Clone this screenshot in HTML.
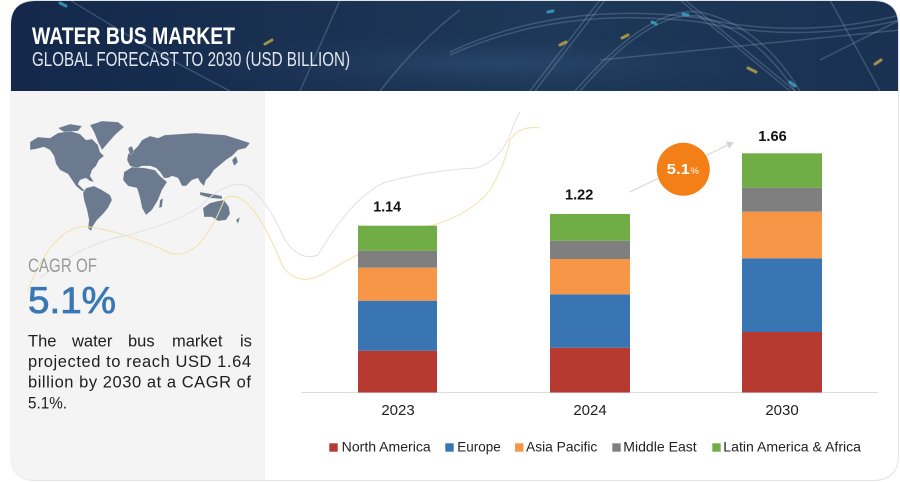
<!DOCTYPE html>
<html><head><meta charset="utf-8"><style>
html,body{margin:0;padding:0;background:#fff;}
body{width:900px;height:482px;overflow:hidden;position:relative;font-family:"Liberation Sans",sans-serif;}
svg{position:absolute;left:0;top:0;}
</style></head><body>
<svg width="900" height="482" viewBox="0 0 900 482" xmlns="http://www.w3.org/2000/svg">
<defs>
<linearGradient id="hdr" x1="0" y1="0" x2="1" y2="0">
<stop offset="0" stop-color="#13284a"/>
<stop offset="0.35" stop-color="#1a3152"/>
<stop offset="0.6" stop-color="#1d3858"/>
<stop offset="1" stop-color="#1a3152"/>
</linearGradient>
<radialGradient id="glow" cx="0.55" cy="0.7" r="0.4">
<stop offset="0" stop-color="#2b4a6e" stop-opacity="0.8"/>
<stop offset="1" stop-color="#1a3152" stop-opacity="0"/>
</radialGradient>
<clipPath id="hclip"><path d="M11,91 L11,25 Q11,1 36,1 L873,1 Q898,1 898,25 L898,91 Z"/></clipPath>
<marker id="arr" markerWidth="8" markerHeight="8" refX="6" refY="4" orient="auto" markerUnits="userSpaceOnUse"><path d="M0,0 L7,4 L0,8 Z" fill="#d4d4d4"/></marker>
</defs>
<!-- card -->
<path d="M11,25 Q11,0.5 36,0.5 L873,0.5 Q898.5,0.5 898.5,25 L898.5,455 Q898.5,480.5 873,480.5 L36,480.5 Q11,480.5 11,455 Z" fill="#fff" stroke="#e3e3e3" stroke-width="1"/>
<!-- left panel -->
<path d="M11,91 L265,91 L265,480 L36,480 Q11,480 11,455 Z" fill="#f4f4f4"/>
<!-- header -->
<g clip-path="url(#hclip)">
<rect x="11" y="0" width="888" height="91" fill="url(#hdr)"/>
<rect x="11" y="0" width="888" height="91" fill="url(#glow)"/>
<g fill="none" stroke="#8fa6c4" stroke-opacity="0.3" stroke-width="1.5">
<path d="M450,52 Q560,0 700,18 Q800,40 900,15"/>
<path d="M450,55 Q560,5 700,22 Q800,44 900,20"/>
<path d="M575,91 Q650,5 700,12 Q760,25 800,91"/>
<path d="M580,91 Q650,10 698,16 Q755,30 795,91"/>
<path d="M530,91 L600,0"/>
<path d="M535,91 L605,0"/>
<path d="M680,0 L790,91"/>
<path d="M685,0 L795,91"/>
<path d="M820,60 Q870,35 900,20"/>
<path d="M70,0 Q150,50 230,91"/>
<path d="M300,91 L340,0"/>
<path d="M380,91 Q420,40 460,10"/>
<path d="M830,0 L880,91"/>
<path d="M600,60 L900,30"/>
</g>
<g stroke-width="3" stroke-linecap="round" stroke-opacity="0.7">
<path d="M560,45 L566,42" stroke="#d9b845"/>
<path d="M622,38 L628,35" stroke="#d9b845"/>
<path d="M748,68 L756,72" stroke="#d9b845"/>
<path d="M548,12 L553,11" stroke="#3fb6d8"/>
<path d="M652,22 L656,24" stroke="#3fb6d8"/>
<path d="M683,14 L688,15" stroke="#3fb6d8"/>
<path d="M790,82 L795,86" stroke="#3fb6d8"/>
<path d="M265,44 L272,40" stroke="#d9b845"/>
<path d="M60,3 L66,6" stroke="#3fb6d8"/>
<path d="M875,64 L881,60" stroke="#d9b845"/>
</g>
</g>
<text x="32" y="44" font-size="24" font-weight="bold" fill="#ffffff" textLength="203" lengthAdjust="spacingAndGlyphs">WATER BUS MARKET</text>
<text x="32" y="66" font-size="20" fill="#e2e7ee" textLength="318" lengthAdjust="spacingAndGlyphs">GLOBAL FORECAST TO 2030 (USD BILLION)</text>

<!-- map -->
<g fill="#6b7a8e" stroke="#f4f4f4" stroke-width="0.3">
<path d="M30,142 L38,137 L50,138 L58,133 L70,131 L80,134 L86,140 L92,139 L98,145 L100,152 L104,156 L99,160 L96,166 L92,170 L90,176 L94,182 L90,181 L86,178 L80,180 L78,184 L84,190 L86,192 L82,191 L76,186 L72,180 L68,174 L60,170 L56,164 L54,156 L50,150 L44,147 L36,149 L30,150 Z"/>
<path d="M58,128 L70,124 L82,126 L78,131 L64,132 Z"/>
<path d="M90,125 L102,121 L118,122 L124,127 L115,135 L108,143 L102,150 L98,142 L94,132 Z"/>
<path d="M86,188 L94,186 L102,190 L110,195 L112,200 L108,208 L103,214 L97,220 L93,226 L91,231 L88,228 L89,220 L87,210 L84,200 L83,193 Z"/>
<path d="M124,172 L132,167 L145,168 L155,170 L160,176 L167,182 L162,190 L158,200 L152,210 L146,215 L142,208 L140,198 L137,188 L128,186 L123,180 Z"/>
<path d="M160,200 L163,198 L162,207 L159,208 Z"/>
<path d="M127,160 L128,154 L134,150 L138,146 L142,140 L150,136 L158,138 L165,135 L180,134 L195,133 L210,134 L225,135 L238,139 L250,143 L246,148 L238,150 L232,156 L226,160 L220,165 L214,170 L210,176 L206,180 L204,186 L200,182 L198,178 L192,180 L186,186 L182,186 L178,178 L172,176 L168,178 L164,178 L160,172 L156,168 L150,166 L142,166 L137,168 L130,166 Z"/>
<path d="M128,148 L132,146 L134,152 L130,155 Z"/>
<path d="M232,160 L236,156 L238,162 L234,166 Z"/>
<path d="M200,192 L212,194 L222,196 L222,199 L210,198 L200,195 Z"/>
<path d="M203,208 L210,203 L218,201 L224,200 L229,207 L230,214 L226,220 L218,221 L212,217 L204,217 Z"/>
<path d="M236,220 L240,217 L238,224 Z"/>
</g>

<!-- decorative curves -->
<path d="M28,290 Q55,222 90,227 Q125,232 170,253 Q200,262 225,198 Q250,185 283,267 Q300,290 330,270 Q380,240 430,226 Q470,215 490,190 Q505,165 510,140 Q520,125 540,128" fill="none" stroke="#f3e0a4" stroke-width="1"/>
<path d="M40,278 Q80,245 120,237 Q170,225 200,207 Q225,180 245,185 Q265,195 285,240 Q300,262 318,255 Q350,200 383,183 Q430,170 477,168 Q500,160 510,135 Q515,120 520,112" fill="none" stroke="#dfe1e5" stroke-width="1"/>

<text x="28" y="272" font-size="19.5" fill="#9a9a9a" textLength="69" lengthAdjust="spacingAndGlyphs">CAGR OF</text>
<text x="28" y="313" font-size="37" fill="#3a77b5" stroke="#3a77b5" stroke-width="0.8" textLength="88" lengthAdjust="spacingAndGlyphs">5.1%</text>
<g font-size="16.5" fill="#1e1e1e">
<text y="346.5"><tspan x="28">The</tspan><tspan x="72">water</tspan><tspan x="128">bus</tspan><tspan x="172">market</tspan><tspan x="240">is</tspan></text>
<text x="28" y="367" textLength="223" lengthAdjust="spacing">projected to reach USD 1.64</text>
<text x="28" y="387.5" textLength="223" lengthAdjust="spacing">billion by 2030 at a CAGR of</text>
<text x="28" y="408.5" textLength="39" lengthAdjust="spacingAndGlyphs">5.1%.</text>
</g>

<!-- chart -->
<line x1="301" y1="392.5" x2="878" y2="392.5" stroke="#dcdcdc" stroke-width="1"/>
<!-- 2023 -->
<rect x="358" y="350.7" width="79" height="41.8" fill="#b73a31"/>
<rect x="358" y="300.7" width="79" height="50" fill="#3a75b3"/>
<rect x="358" y="267.7" width="79" height="33" fill="#f79646"/>
<rect x="358" y="250.7" width="79" height="17" fill="#7f7f7f"/>
<rect x="358" y="225.7" width="79" height="25" fill="#70ad47"/>
<!-- 2024 -->
<rect x="550" y="347.7" width="80" height="44.8" fill="#b73a31"/>
<rect x="550" y="294.3" width="80" height="53.4" fill="#3a75b3"/>
<rect x="550" y="259" width="80" height="35.3" fill="#f79646"/>
<rect x="550" y="240.7" width="80" height="18.3" fill="#7f7f7f"/>
<rect x="550" y="214" width="80" height="26.7" fill="#70ad47"/>
<!-- 2030 -->
<rect x="742" y="332" width="80" height="60.5" fill="#b73a31"/>
<rect x="742" y="258.3" width="80" height="73.7" fill="#3a75b3"/>
<rect x="742" y="211.7" width="80" height="46.6" fill="#f79646"/>
<rect x="742" y="187.7" width="80" height="24" fill="#7f7f7f"/>
<rect x="742" y="153.3" width="80" height="34.4" fill="#70ad47"/>

<g font-size="15" font-weight="bold" fill="#111">
<text x="373.3" y="211.7" textLength="27.7" lengthAdjust="spacingAndGlyphs">1.14</text>
<text x="565" y="199.3" textLength="28.3" lengthAdjust="spacingAndGlyphs">1.22</text>
<text x="758.3" y="141" textLength="28.4" lengthAdjust="spacingAndGlyphs">1.66</text>
</g>
<g font-size="15" fill="#222" text-anchor="middle">
<text x="398" y="415">2023</text>
<text x="590" y="415">2024</text>
<text x="782" y="415">2030</text>
</g>

<line x1="630" y1="192" x2="733" y2="142.5" stroke="#d4d4d4" stroke-width="1" marker-end="url(#arr)"/>
<circle cx="683.3" cy="169.3" r="26.5" fill="#f47f17"/>
<text x="666.7" y="174" font-size="15" font-weight="bold" fill="#fff" textLength="23.3" lengthAdjust="spacingAndGlyphs">5.1</text>
<text x="690.5" y="174" font-size="9.5" fill="#fff">%</text>

<!-- legend -->
<rect x="329.3" y="443.3" width="8.4" height="8.4" fill="#b73a31"/>
<rect x="445.3" y="443.3" width="8.4" height="8.4" fill="#3a75b3"/>
<rect x="515" y="443.3" width="8.4" height="8.4" fill="#f79646"/>
<rect x="612.3" y="443.3" width="8.4" height="8.4" fill="#7f7f7f"/>
<rect x="712.3" y="443.3" width="8.4" height="8.4" fill="#70ad47"/>
<g font-size="14" fill="#222">
<text x="341.7" y="451.7" textLength="89" lengthAdjust="spacingAndGlyphs">North America</text>
<text x="457.3" y="451.7" textLength="43.4" lengthAdjust="spacingAndGlyphs">Europe</text>
<text x="526" y="451.7" textLength="71.3" lengthAdjust="spacingAndGlyphs">Asia Pacific</text>
<text x="623.3" y="451.7" textLength="73.4" lengthAdjust="spacingAndGlyphs">Middle East</text>
<text x="723.3" y="451.7" textLength="137.7" lengthAdjust="spacingAndGlyphs">Latin America &amp; Africa</text>
</g>
</svg>
</body></html>
